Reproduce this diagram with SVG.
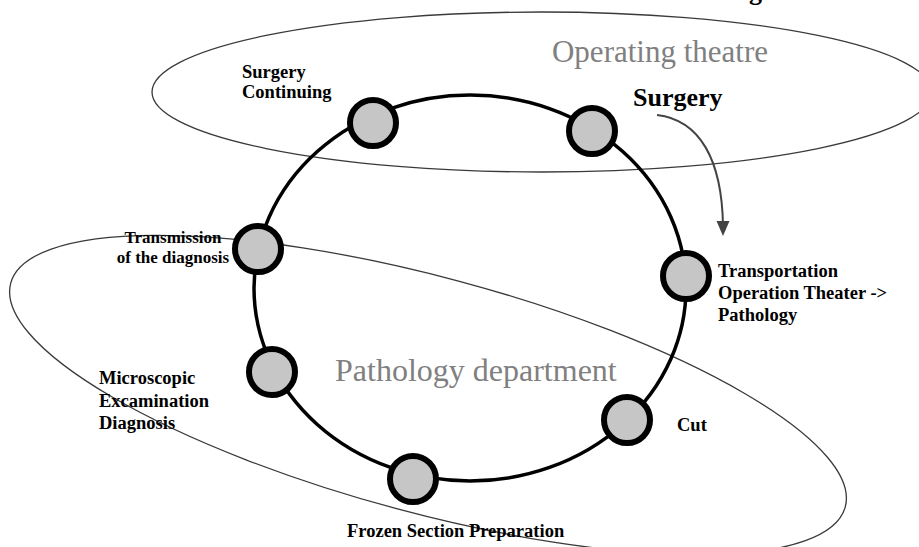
<svg xmlns="http://www.w3.org/2000/svg" width="919" height="547" viewBox="0 0 919 547">
<style>
.zone{fill:none;stroke:#3a3a3a;stroke-width:1.3}
.ring{fill:none;stroke:#000;stroke-width:3.5}
.node{fill:#c6c6c6;stroke:#000;stroke-width:6}
.lbl{font-family:"Liberation Serif","Times New Roman",serif;font-weight:bold;font-size:18.5px;fill:#000}
.area{font-family:"Liberation Serif","Times New Roman",serif;font-size:32px;fill:#808080}
.flow{fill:none;stroke:#444;stroke-width:2}
</style>
<rect width="919" height="547" fill="#fff"/>
<text class="lbl" x="749" y="0" style="font-size:26px">g</text>
<g id="zone-operating">
<ellipse class="zone" cx="542" cy="92" rx="390" ry="80"/>
<text class="area" x="660" y="62" text-anchor="middle" style="font-size:31px">Operating theatre</text>
</g>
<g id="zone-pathology">
<ellipse class="zone" cx="428" cy="395" rx="432" ry="118" transform="rotate(15 428 395)"/>
<text class="area" x="335" y="381">Pathology department</text>
</g>
<g id="connectors">
<ellipse class="ring" cx="470" cy="288" rx="216" ry="193"/>
<path class="flow" d="M657,115 C700,120 722,160 723,226"/>
<polygon points="716.5,221 729.5,221 723,236" fill="#444"/>
</g>
<g id="node-surgery">
<circle class="node" cx="592" cy="131" r="23"/>
<text class="lbl" x="633" y="106" style="font-size:26px">Surgery</text>
</g>
<g id="node-transportation">
<circle class="node" cx="686" cy="276" r="23"/>
<text class="lbl" x="718" y="277">Transportation</text>
<text class="lbl" x="718" y="299">Operation Theater -&gt;</text>
<text class="lbl" x="718" y="321">Pathology</text>
</g>
<g id="node-cut">
<circle class="node" cx="627" cy="420" r="23"/>
<text class="lbl" x="677" y="431">Cut</text>
</g>
<g id="node-frozen">
<circle class="node" cx="413" cy="479" r="23"/>
<text class="lbl" x="347" y="537">Frozen Section Preparation</text>
</g>
<g id="node-microscopic">
<circle class="node" cx="272" cy="372" r="23"/>
<text class="lbl" x="99" y="384">Microscopic</text>
<text class="lbl" x="99" y="407">Excamination</text>
<text class="lbl" x="99" y="429">Diagnosis</text>
</g>
<g id="node-transmission">
<circle class="node" cx="258" cy="249" r="23"/>
<text class="lbl" x="173" y="243" text-anchor="middle" style="font-size:17px">Transmission</text>
<text class="lbl" x="173" y="263" text-anchor="middle" style="font-size:17px">of the diagnosis</text>
</g>
<g id="node-surgery-continuing">
<circle class="node" cx="373" cy="123" r="23"/>
<text class="lbl" x="242" y="78">Surgery</text>
<text class="lbl" x="242" y="98">Continuing</text>
</g>
</svg>
